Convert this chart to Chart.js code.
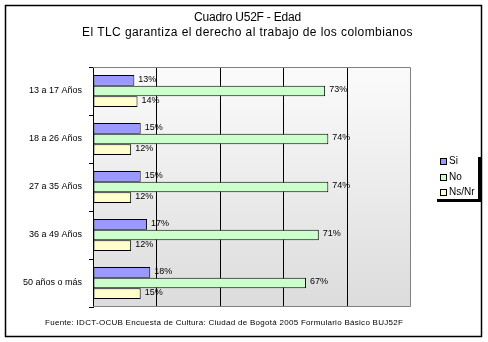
<!DOCTYPE html>
<html>
<head>
<meta charset="utf-8">
<script src="https://cdn.jsdelivr.net/npm/chart.js@4"></script>
<style>
  html, body { margin: 0; padding: 0; background: #fff; }
  #wrap { width: 488px; height: 342px; position: relative; }
</style>
</head>
<body>
<div id="wrap"><canvas id="chart" width="488" height="342"></canvas></div>
<script>
const categories = ["13 a 17 Años", "18 a 26 Años", "27 a 35 Años", "36 a 49 Años", "50 años o más"];
const siValues = [13, 15, 15, 17, 18];
const noValues = [73, 74, 74, 71, 67];
const nsnrValues = [14, 12, 12, 12, 15];
const seriesNames = ["Si", "No", "Ns/Nr"];
const seriesColors = ["#9999FF", "#CCFFCC", "#FFFFCC"];
const titleLines = ["Cuadro U52F - Edad", "El TLC garantiza el derecho al trabajo de los colombianos"];
const footerText = "Fuente: IDCT-OCUB Encuesta de Cultura: Ciudad de Bogotá 2005 Formulario Básico BUJ52F";

const FONT = "'Liberation Sans', Arial, sans-serif";

// stretch a line of text to a given width with letter spacing
function fitText(ctx, text, x, y, width) {
    ctx.letterSpacing = "0px";
    const w = ctx.measureText(text).width;
    ctx.letterSpacing = ((width - w) / text.length).toFixed(2) + "px";
    ctx.fillText(text, x, y);
    ctx.letterSpacing = "0px";
}

// background gradient + plot border
const plotBg = {
    id: "plotBg",
    beforeDraw(chart) {
        const { ctx, chartArea: a } = chart;
        ctx.save();
        ctx.fillStyle = "#fff";
        ctx.fillRect(0, 0, chart.width, chart.height);
        const g = ctx.createLinearGradient(0, a.top, 0, a.bottom);
        g.addColorStop(0, "#fbfbfb");
        g.addColorStop(1, "#dcdcdc");
        ctx.fillStyle = g;
        ctx.fillRect(a.left, a.top, a.right - a.left, a.bottom - a.top);
        ctx.restore();
    },
    beforeDatasetsDraw(chart) {
        const { ctx, chartArea: a } = chart;
        ctx.save();
        ctx.strokeStyle = "#808080";
        ctx.lineWidth = 1;
        ctx.beginPath();
        ctx.moveTo(a.left, a.top + 0.5);
        ctx.lineTo(a.right - 0.5, a.top + 0.5);
        ctx.lineTo(a.right - 0.5, a.bottom - 0.5);
        ctx.lineTo(a.left, a.bottom - 0.5);
        ctx.stroke();
        ctx.restore();
    }
};

// percent labels at bar ends
const barLabels = {
    id: "barLabels",
    afterDatasetsDraw(chart) {
        const { ctx } = chart;
        ctx.save();
        ctx.font = "9px " + FONT;
        ctx.fillStyle = "#000";
        ctx.textBaseline = "middle";
        ctx.textAlign = "left";
        chart.data.datasets.forEach((ds, i) => {
            chart.getDatasetMeta(i).data.forEach((bar, j) => {
                ctx.fillText(ds.data[j] + "%", bar.x + 4, bar.y - 1);
            });
        });
        ctx.restore();
    }
};

// title, footer, legend, outer frame
const decor = {
    id: "decor",
    afterDraw(chart) {
        const { ctx } = chart;
        ctx.save();
        ctx.fillStyle = "#000";
        ctx.textAlign = "left";
        ctx.textBaseline = "middle";
        ctx.font = "12px " + FONT;
        fitText(ctx, titleLines[0], 194, 18, 107);
        fitText(ctx, titleLines[1], 82, 33, 331);

        ctx.font = "8px " + FONT;
        fitText(ctx, footerText, 45, 323, 358);

        // legend
        ctx.font = "10px " + FONT;
        const ys = [161, 177, 192];
        seriesNames.forEach((name, i) => {
            ctx.fillStyle = seriesColors[i];
            ctx.fillRect(440, ys[i] - 3, 6, 6);
            ctx.strokeStyle = "#000";
            ctx.lineWidth = 1;
            ctx.strokeRect(440.5, ys[i] - 2.5, 6, 6);
            ctx.fillStyle = "#000";
            ctx.fillText(name, 449, ys[i]);
        });
        ctx.fillRect(478, 157, 3, 45);
        ctx.fillRect(437, 199, 44, 3);

        // outer frame
        ctx.strokeStyle = "#000";
        ctx.lineWidth = 1.5;
        ctx.strokeRect(5.5, 5.5, 476, 331);
        ctx.restore();
    }
};

new Chart(document.getElementById("chart"), {
    type: "bar",
    data: {
        labels: categories,
        datasets: [siValues, noValues, nsnrValues].map((vals, i) => ({
            label: seriesNames[i],
            data: vals,
            backgroundColor: seriesColors[i],
            borderColor: "#000",
            borderWidth: 1,
            borderSkipped: false,
            categoryPercentage: 0.67,
            barPercentage: 1
        }))
    },
    options: {
        indexAxis: "y",
        responsive: false,
        animation: false,
        devicePixelRatio: 1,
        layout: { padding: { left: 0, right: 77, top: 67, bottom: 35 } },
        plugins: { legend: { display: false }, title: { display: false }, tooltip: { enabled: false } },
        scales: {
            x: {
                min: 0, max: 100,
                ticks: { display: false, stepSize: 20 },
                grid: {
                    drawTicks: false,
                    color: c => (c.tick && c.tick.value === 100) ? "rgba(0,0,0,0)" : "#000"
                },
                border: { display: false },
                afterFit(s) { s.height = 0; }
            },
            y: {
                grid: { drawOnChartArea: false, tickLength: 4, color: "#000", offset: true },
                border: { color: "#000", width: 1 },
                ticks: { color: "#000", padding: 7, font: { family: FONT, size: 9 } },
                afterFit(s) { s.width = 93; }
            }
        }
    },
    plugins: [plotBg, barLabels, decor]
});
</script>
</body>
</html>
